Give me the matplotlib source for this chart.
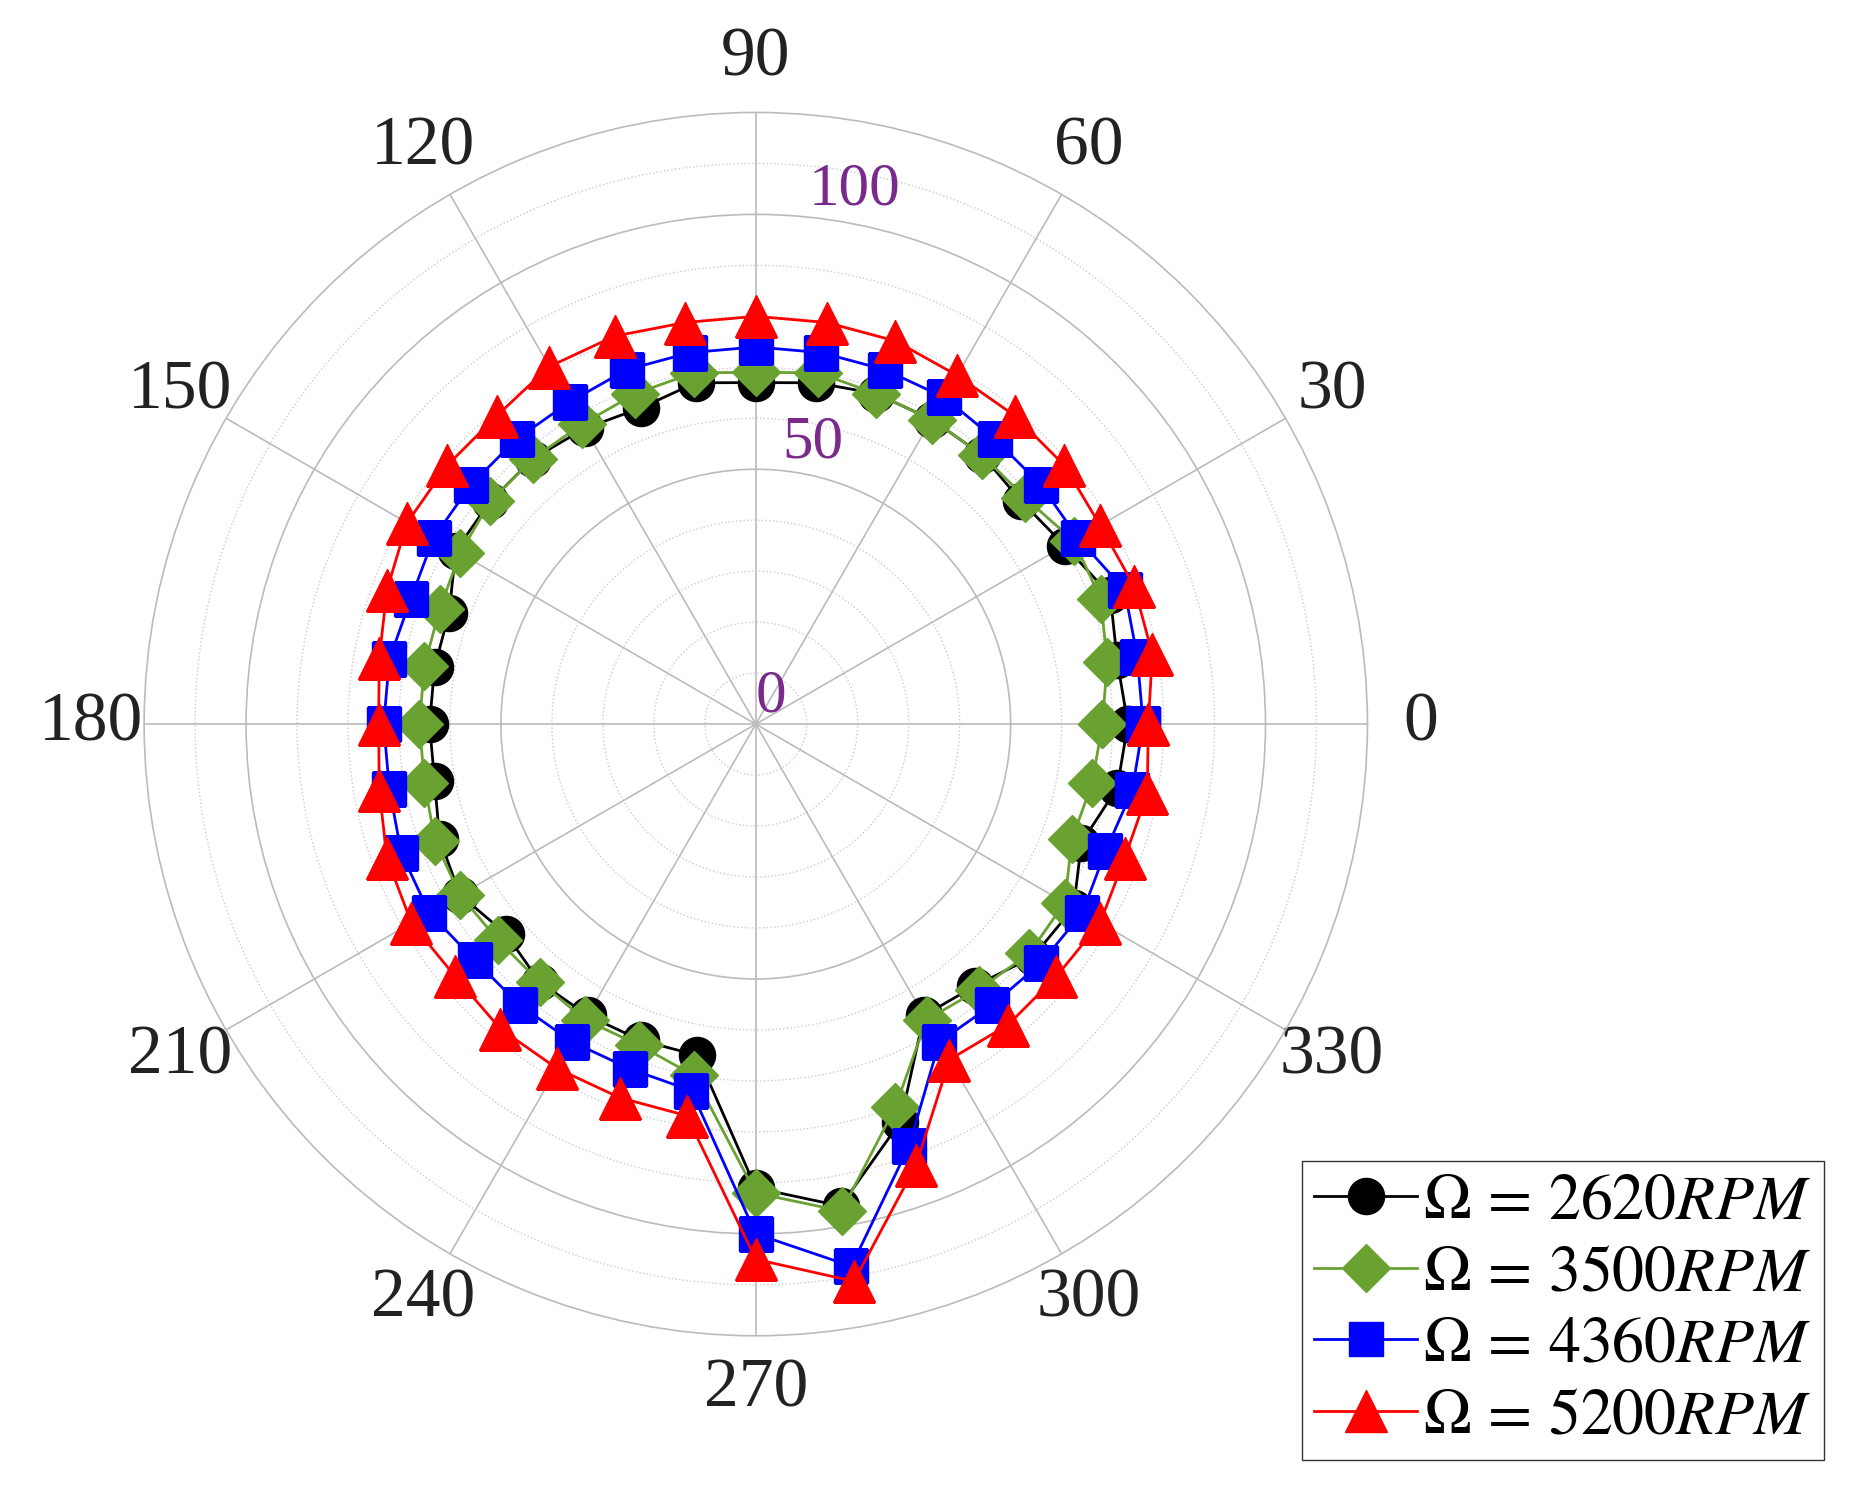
import numpy as np
import matplotlib
matplotlib.use("Agg")
import matplotlib.pyplot as plt

plt.rcParams['font.family'] = ['Liberation Serif', 'DejaVu Serif']
plt.rcParams['mathtext.fontset'] = 'stix'

angles_deg = list(range(0, 360, 10))
r_2620 = [73,72,74,70,68,69,69,69,68,67,68,66,67,68,68,68,64,64,
          64,64,66,67,64,66,66,66,66,91,96,83,66,67,71,72,68,72]
r_3500 = [68,70,72,72,69,69,69,69,70,69,70,69,68,68,68,67,66,66,
          66,66,67,67,66,66,67,67,70,92,97,80,67,68,70,70,66,67]
r_4360 = [76,76,77,73,73,73,74,74,74,74,74,74,73,73,73,73,72,73,
          73,73,74,74,72,72,72,72,73,100,108,88,72,72,73,74,73,75]
r_5200 = [77,79,79,78,79,79,79,80,80,80,80,81,81,79,79,79,77,75,
          74,75,77,78,77,78,78,78,78,105,111,92,76,77,77,78,77,78]
labels = [r'$\Omega\,=\,2620RPM$', r'$\Omega\,=\,3500RPM$',
          r'$\Omega\,=\,4360RPM$', r'$\Omega\,=\,5200RPM$']
colors = ['black', '#6aa232', '#0000ff', '#ff0000']
markers = ['o', 'D', 's', '^']
sizes = [26, 24, 24, 30]

fig = plt.figure(figsize=(18.62, 15.07), dpi=100)
ax = fig.add_axes([0.0774, 0.1135, 0.657, 0.812], projection='polar')
th = np.deg2rad(angles_deg + [angles_deg[0]])
for r, c, m, s, lab in zip([r_2620, r_3500, r_4360, r_5200], colors, markers, sizes, labels):
    rr = r + [r[0]]
    ax.plot(th, rr, color=c, marker=m, ms=s, lw=2, label=lab)

ax.set_ylim(0, 120)
ax.set_yticks([0, 50, 100])
ax.set_yticklabels(['0', '50', '100'], color='#7a2a8a', fontsize=44)
ax.set_rlabel_position(84)
ax.set_xticks(np.deg2rad(np.arange(0, 360, 30)))
ax.set_xticklabels([str(a) for a in range(0, 360, 30)], fontsize=50, color='#222222')
ax.tick_params(axis='x', pad=28)
ax.grid(True, color='#bbbbbb', lw=1.2)
for rv in range(10, 120, 10):
    if rv in (50, 100):
        continue
    ax.plot(np.linspace(0, 2*np.pi, 400), [rv]*400, ls=':', color='#cccccc', lw=1, zorder=0)
ax.spines['polar'].set_color('#bbbbbb')
ax.spines['polar'].set_linewidth(1.2)

fig.legend(loc='lower right', bbox_to_anchor=(0.997, 0.01), fontsize=46,
           frameon=True, fancybox=False, edgecolor='black', handlelength=1.6,
           handletextpad=0.1, borderpad=0.2, labelspacing=0.2)
fig.savefig('out.png', dpi=100, facecolor='white')
